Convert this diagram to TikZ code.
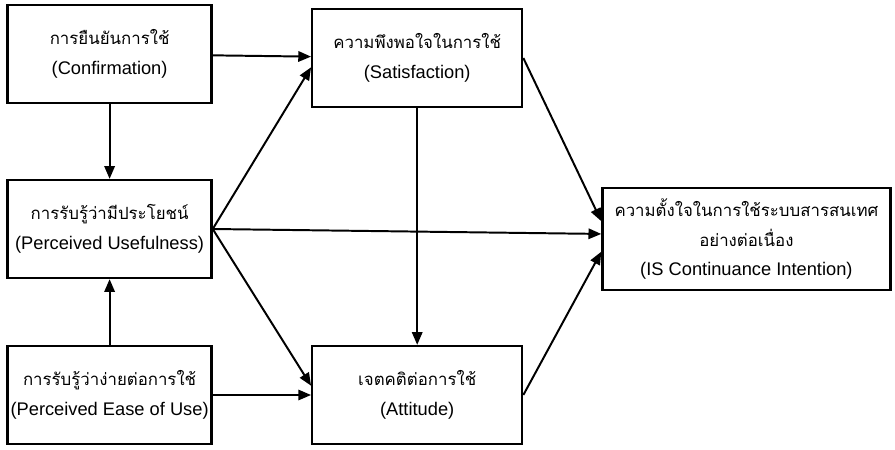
\documentclass[tikz,border=0pt]{standalone}
\usepackage{fontspec}
\setmainfont{Liberation Sans}
\newfontfamily\thaifont[Script=Thai,Scale=0.92]{Loma}
\usetikzlibrary{positioning,arrows.meta}

\begin{document}
\begin{tikzpicture}[node distance=4cm,on grid,
   factor/.style={draw,line width=1.6pt,minimum width=5.1cm,minimum height=2.45cm,
     inner sep=2pt,align=center,font=\fontsize{13}{21}\selectfont},
   every edge/.style={draw,line width=1.4pt,-{Triangle[length=3.2mm,width=2.6mm]}}]
   \useasboundingbox (0,0) rectangle (22.375,-11.225);
   \node[factor] (conf) at (2.74,-1.35) {{\thaifont การยืนยันการใช้}\\(Confirmation)};
   \node[factor] (pu) [below=4.375cm of conf] {{\thaifont การรับรู้ว่ามีประโยชน์}\\(Perceived Usefulness)};
   \node[factor] (peou) [below=4.15cm of pu] {{\thaifont การรับรู้ว่าง่ายต่อการใช้}\\(Perceived Ease of Use)};
   \node[factor,minimum width=5.25cm] (sat) [right=7.69cm of conf,yshift=-0.1cm] {{\thaifont ความพึงพอใจในการใช้}\\(Satisfaction)};
   \node[factor,minimum width=5.25cm] (att) [right=7.69cm of peou] {{\thaifont เจตคติต่อการใช้}\\(Attitude)};
   \node[factor,minimum width=7.2cm,minimum height=2.55cm,font=\fontsize{13}{21}\selectfont] (isc)
     [right=15.92cm of pu,yshift=-0.25cm] {{\thaifont ความตั้งใจในการใช้ระบบสารสนเทศ}\\{\thaifont อย่างต่อเนื่อง}\\(IS Continuance Intention)};

   \path
    (conf) edge (sat)
           edge (pu)
    (peou) edge (pu)
           edge (att)
    (pu.east) edge (sat.185)
              edge (isc.178)
              edge (att.175)
    (sat) edge (att)
    (sat.east) edge (isc.173)
    (att.east) edge (isc.185);
\end{tikzpicture}
\end{document}
